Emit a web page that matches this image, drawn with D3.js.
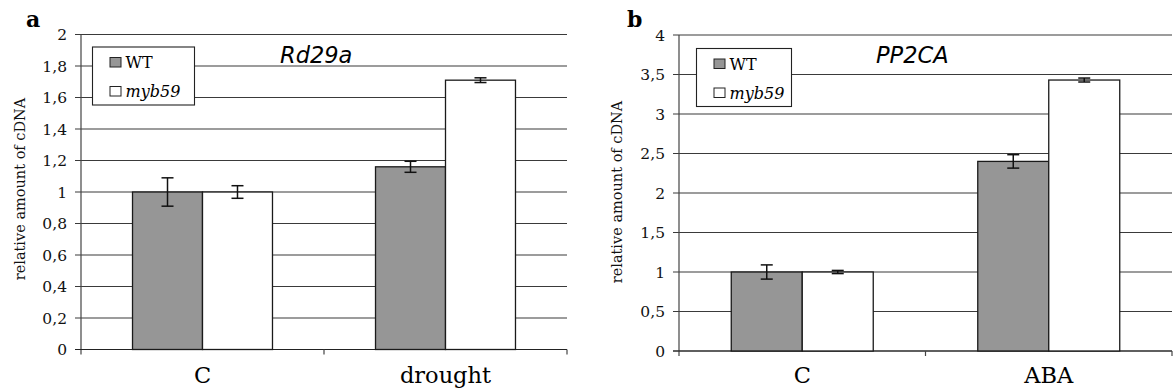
<!DOCTYPE html>
<html>
<head>
<meta charset="utf-8">
<script src="https://cdn.jsdelivr.net/npm/d3@7"></script>
<style>
  body { margin: 0; background: #fff; }
  svg { display: block; }
  .tick-label { font-family: "DejaVu Serif", serif; font-size: 15.5px; fill: #111; }
  .cat-label { font-family: "DejaVu Serif", serif; font-size: 22.5px; fill: #000; }
  .ylab { font-family: "DejaVu Serif", serif; font-size: 14.5px; fill: #111; }
  .legend-text { font-family: "DejaVu Serif", serif; font-size: 16px; fill: #000; }
  .panel-letter { font-family: "DejaVu Serif", serif; font-size: 22px; font-weight: bold; fill: #000; }
  .gene { font-family: "DejaVu Sans", sans-serif; font-style: italic; font-size: 22.5px; fill: #000; }
</style>
</head>
<body>
<div id="chart"></div>
<script>
  // panel a : Rd29a
  var categoriesA = ["C", "drought"],
      wtA = [1.0, 1.16],
      wtErrA = [0.09, 0.035],
      mybA = [1.0, 1.71],
      mybErrA = [0.04, 0.015],
      ticksA = [0, 0.2, 0.4, 0.6, 0.8, 1, 1.2, 1.4, 1.6, 1.8, 2];

  // panel b : PP2CA
  var categoriesB = ["C", "ABA"],
      wtB = [1.0, 2.40],
      wtErrB = [0.09, 0.085],
      mybB = [1.0, 3.43],
      mybErrB = [0.02, 0.025],
      ticksB = [0, 0.5, 1, 1.5, 2, 2.5, 3, 3.5, 4];

  var series = ["WT", "myb59"],
      fills = { "WT": "#969696", "myb59": "#ffffff" };

  var locale = d3.formatLocale({ decimal: ",", thousands: ".", grouping: [3], currency: ["", ""] });
  var fmt = locale.format("~g");

  const svg = d3.select("#chart").append("svg")
      .attr("width", 1173)
      .attr("height", 391);

  function drawPanel(opt) {
    var g = svg.append("g");
    var x = d3.scaleBand().domain(opt.categories).range([opt.left, opt.right]);
    var bw = x.bandwidth();
    var gap = bw * 0.212;
    var xs = d3.scaleBand().domain(series).range([gap, bw - gap]);
    var y = d3.scaleLinear().domain([0, opt.max]).range([opt.bottom, opt.top]);

    // gridlines + ticks
    g.selectAll(".grid").data(opt.ticks).enter().append("line")
      .attr("x1", opt.left - 6).attr("x2", opt.right)
      .attr("y1", function(d) { return y(d); }).attr("y2", function(d) { return y(d); })
      .attr("stroke", "#3a3a3a").attr("stroke-width", 1.1);

    g.selectAll(".tick-label").data(opt.ticks).enter().append("text")
      .attr("class", "tick-label")
      .attr("x", opt.left - 14)
      .attr("y", function(d) { return y(d); })
      .attr("dy", "0.36em")
      .attr("text-anchor", "end")
      .text(function(d) { return fmt(d); });

    // y axis line
    g.append("line").attr("x1", opt.left).attr("x2", opt.left)
      .attr("y1", opt.top).attr("y2", opt.bottom + 5)
      .attr("stroke", "#444").attr("stroke-width", 1.2);
    // x axis line
    g.append("line").attr("x1", opt.left - 6).attr("x2", opt.right)
      .attr("y1", opt.bottom).attr("y2", opt.bottom)
      .attr("stroke", "#222").attr("stroke-width", 1.2);
    // x ticks between categories
    var xt = opt.categories.map(function(c) { return x(c) + bw; });
    g.selectAll(".xtick").data(xt).enter().append("line")
      .attr("x1", function(d) { return d; }).attr("x2", function(d) { return d; })
      .attr("y1", opt.bottom).attr("y2", opt.bottom + 5)
      .attr("stroke", "#444").attr("stroke-width", 1.2);

    // bars
    var data = [];
    opt.categories.forEach(function(c, i) {
      data.push({ cat: c, s: "WT", v: opt.wt[i], e: opt.wtErr[i] });
      data.push({ cat: c, s: "myb59", v: opt.myb[i], e: opt.mybErr[i] });
    });

    g.selectAll(".bar").data(data).enter().append("rect")
      .attr("x", function(d) { return x(d.cat) + xs(d.s); })
      .attr("y", function(d) { return y(d.v); })
      .attr("width", xs.bandwidth())
      .attr("height", function(d) { return opt.bottom - y(d.v); })
      .attr("fill", function(d) { return fills[d.s]; })
      .attr("stroke", "#1a1a1a").attr("stroke-width", 1.3);

    // error bars
    var eb = g.selectAll(".err").data(data).enter().append("g")
      .attr("stroke", "#111").attr("stroke-width", 1.5);
    var cx = function(d) { return x(d.cat) + xs(d.s) + xs.bandwidth() / 2; };
    eb.append("line").attr("x1", cx).attr("x2", cx)
      .attr("y1", function(d) { return y(d.v + d.e); }).attr("y2", function(d) { return y(d.v - d.e); });
    eb.append("line").attr("x1", function(d) { return cx(d) - 6; }).attr("x2", function(d) { return cx(d) + 6; })
      .attr("y1", function(d) { return y(d.v + d.e); }).attr("y2", function(d) { return y(d.v + d.e); });
    eb.append("line").attr("x1", function(d) { return cx(d) - 6; }).attr("x2", function(d) { return cx(d) + 6; })
      .attr("y1", function(d) { return y(d.v - d.e); }).attr("y2", function(d) { return y(d.v - d.e); });

    // category labels
    g.selectAll(".cat-label").data(opt.categories).enter().append("text")
      .attr("class", "cat-label")
      .attr("x", function(d) { return x(d) + bw / 2; })
      .attr("y", 383)
      .attr("text-anchor", "middle")
      .text(function(d) { return d; });

    // y label
    g.append("text").attr("class", "ylab")
      .attr("transform", "translate(" + opt.ylabX + "," + opt.ylabY + ") rotate(-90)")
      .attr("text-anchor", "middle")
      .text("relative amount of cDNA");

    // panel letter & gene name
    g.append("text").attr("class", "panel-letter").attr("x", opt.letterX).attr("y", 27).text(opt.letter);
    g.append("text").attr("class", "gene").attr("x", opt.geneX).attr("y", 63).text(opt.gene);

    // legend
    var lg = g.append("g").attr("transform", "translate(" + opt.legX + "," + opt.legY + ")");
    lg.append("rect").attr("width", opt.legW).attr("height", 58)
      .attr("fill", "#fff").attr("stroke", "#222").attr("stroke-width", 1.1);
    series.forEach(function(s, i) {
      lg.append("rect").attr("x", 17.5).attr("y", 10.5 + i * 29).attr("width", 11).attr("height", 9.5)
        .attr("fill", fills[s]).attr("stroke", "#222").attr("stroke-width", 1);
      lg.append("text").attr("class", "legend-text")
        .attr("x", 33).attr("y", 21 + i * 29)
        .style("font-style", i == 1 ? "italic" : "normal")
        .text(s);
    });
  }

  drawPanel({
    categories: categoriesA, wt: wtA, wtErr: wtErrA, myb: mybA, mybErr: mybErrA,
    ticks: ticksA, max: 2,
    left: 81, right: 567, top: 34.5, bottom: 349.5,
    ylabX: 25, ylabY: 189, letter: "a", letterX: 26, gene: "Rd29a", geneX: 280,
    legX: 92.5, legY: 47, legW: 102
  });

  drawPanel({
    categories: categoriesB, wt: wtB, wtErr: wtErrB, myb: mybB, mybErr: mybErrB,
    ticks: ticksB, max: 4,
    left: 679, right: 1172, top: 35, bottom: 351,
    ylabX: 622, ylabY: 192, letter: "b", letterX: 627, gene: "PP2CA", geneX: 876,
    legX: 696.5, legY: 48.5, legW: 95
  });
</script>
</body>
</html>
